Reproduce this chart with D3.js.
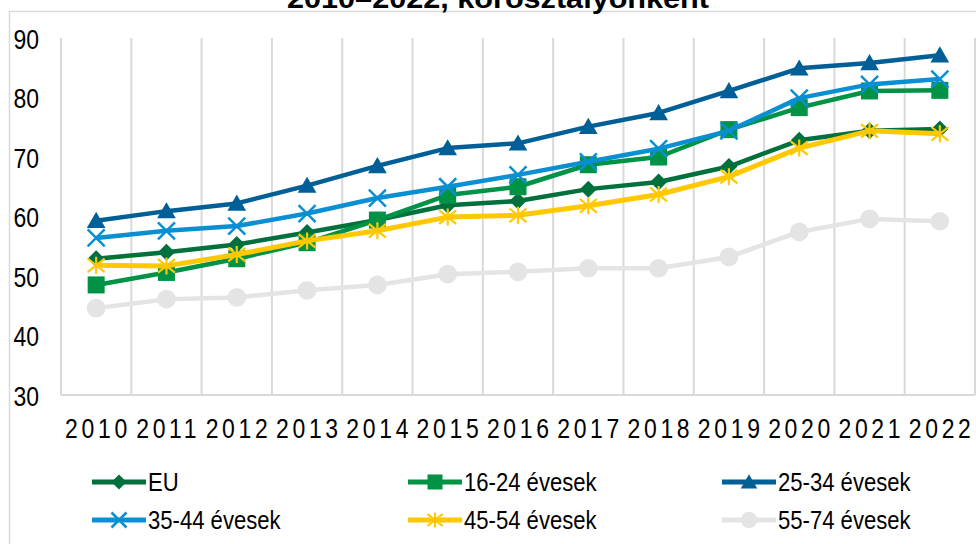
<!DOCTYPE html>
<html><head><meta charset="utf-8">
<script src="https://cdn.jsdelivr.net/npm/d3@7/dist/d3.min.js"></script>
<style>body{margin:0;background:#fff;overflow:hidden}</style>
</head><body>
<svg id="c" width="976" height="544"></svg>
<script>
const years = [2010,2011,2012,2013,2014,2015,2016,2017,2018,2019,2020,2021,2022];
const yTicks = [30,40,50,60,70,80,90];
const seriesNames = ["EU","16-24 évesek","25-34 évesek","35-44 évesek","45-54 évesek","55-74 évesek"];
const euValues   = [52.9,54.0,55.3,57.3,59.4,61.9,62.6,64.6,65.8,68.4,72.8,74.4,74.7];
const age1624    = [48.5,50.6,52.9,55.6,59.4,63.6,65.0,68.7,70.0,74.6,78.3,81.1,81.2];
const age2534    = [59.3,60.9,62.2,65.2,68.5,71.5,72.3,75.1,77.4,81.1,84.9,85.8,87.1];
const age3544    = [56.4,57.6,58.4,60.5,63.1,65.0,67.0,69.2,71.4,74.4,79.9,82.2,83.1];
const age4554    = [51.8,51.7,53.6,55.9,57.6,59.9,60.2,61.8,63.7,66.7,71.5,74.4,73.9];
const age5574    = [44.6,46.1,46.4,47.6,48.5,50.3,50.7,51.3,51.3,53.2,57.4,59.6,59.2];
const seriesValues = [euValues, age1624, age2534, age3544, age4554, age5574];
const seriesColors = ["#00703c","#009245","#005f96","#0a8fd2","#ffc800","#e4e4e4"];
const seriesMarkers = ["diamond","square","triangle","cross","star","circle"];
const titleText = "2010–2022, korosztályonként";

const svg = d3.select("#c");
const FONT = "'Liberation Sans',Arial,sans-serif";

// outer frame
svg.append("rect").attr("x",9.5).attr("y",11.5).attr("width",1000).attr("height",600)
  .attr("fill","none").attr("stroke","#d9d9d9").attr("stroke-width",1.5);

// title (cut off at top, as in the reference)
svg.append("text").attr("x",498).attr("y",8).attr("text-anchor","middle")
  .attr("font-family",FONT).attr("font-weight","bold")
  .attr("font-size",28).attr("fill","#000")
  .attr("textLength",422).attr("lengthAdjust","spacingAndGlyphs").text(titleText);

const x = d3.scaleBand().domain(years).range([61,975]).padding(0);
const y = d3.scaleLinear().domain([30,90]).range([395,38]);

// vertical gridlines at category boundaries
const bounds = years.map(d => x(d)).concat([x.range()[1]]);
svg.append("g").selectAll("line").data(bounds).join("line")
  .attr("x1",d=>d).attr("x2",d=>d).attr("y1",y(90)).attr("y2",y(30))
  .attr("stroke","#d9d9d9").attr("stroke-width",2);
svg.append("line").attr("x1",x.range()[0]).attr("x2",x.range()[1]).attr("y1",y(30)).attr("y2",y(30))
  .attr("stroke","#d9d9d9").attr("stroke-width",2);

// y axis labels
const yAxis = svg.append("g").attr("transform","translate(39,0)")
  .call(d3.axisLeft(y).tickValues(yTicks).tickSize(0).tickPadding(0));
yAxis.select(".domain").remove();
yAxis.selectAll("text").attr("font-family",FONT).attr("font-size",28).attr("fill","#000")
  .attr("x",0).attr("dy","0.36em").attr("transform","scale(0.82,1)");

// x axis labels
const xAxis = svg.append("g").attr("transform","translate(0,"+y(30)+")")
  .call(d3.axisBottom(x).tickSize(0).tickPadding(0));
xAxis.select(".domain").remove();
xAxis.selectAll("text").attr("font-family",FONT).attr("font-size",28).attr("fill","#000")
  .attr("letter-spacing","4.5px").attr("y",43).attr("dy",0).attr("x",2.2)
  .attr("transform","scale(0.82,1)");

function drawMarker(g, type, color, cx, cy, s) {
  if (type==="diamond") {
    g.append("path").attr("d",`M${cx},${cy-s}L${cx+s},${cy}L${cx},${cy+s}L${cx-s},${cy}Z`).attr("fill",color);
  } else if (type==="square") {
    g.append("rect").attr("x",cx-s).attr("y",cy-s).attr("width",2*s).attr("height",2*s).attr("fill",color);
  } else if (type==="triangle") {
    g.append("path").attr("d",`M${cx},${cy-s*1.05}L${cx+s*1.1},${cy+s*0.85}L${cx-s*1.1},${cy+s*0.85}Z`).attr("fill",color);
  } else if (type==="cross") {
    g.append("path").attr("d",`M${cx-s},${cy-s}L${cx+s},${cy+s}M${cx+s},${cy-s}L${cx-s},${cy+s}`)
      .attr("stroke",color).attr("stroke-width",2.5).attr("fill","none");
  } else if (type==="star") {
    g.append("path").attr("d",`M${cx-s},${cy-s*0.8}L${cx+s},${cy+s*0.8}M${cx+s},${cy-s*0.8}L${cx-s},${cy+s*0.8}M${cx},${cy-s}L${cx},${cy+s}`)
      .attr("stroke",color).attr("stroke-width",2.2).attr("fill","none");
  } else if (type==="circle") {
    g.append("circle").attr("cx",cx).attr("cy",cy).attr("r",s*1.1).attr("fill",color);
  }
}

const line = d3.line().x((d,i)=>x(years[i])+x.bandwidth()/2).y(d=>y(d));
const seriesG = svg.append("g");
seriesValues.forEach((vals,k)=>{
  const g = seriesG.append("g");
  g.append("path").datum(vals).attr("d",line).attr("fill","none")
    .attr("stroke",seriesColors[k]).attr("stroke-width",seriesMarkers[k]==="star"?5:4.5)
    .attr("stroke-linejoin","round");
  vals.forEach((v,i)=>drawMarker(g, seriesMarkers[k], seriesColors[k], x(years[i])+x.bandwidth()/2, y(v), 8.5));
});

// legend
const legCols = [92,408,722];
const legRows = [482,520];
seriesNames.forEach((name,k)=>{
  const lx = legCols[k%3], ly = legRows[Math.floor(k/3)];
  const g = svg.append("g");
  g.append("line").attr("x1",lx).attr("x2",lx+54).attr("y1",ly).attr("y2",ly)
    .attr("stroke",seriesColors[k]).attr("stroke-width",5);
  drawMarker(g, seriesMarkers[k], seriesColors[k], lx+27, ly, 7.5);
  g.append("text").attr("transform",`translate(${lx+56},${ly}) scale(0.85,1)`).attr("dy","0.36em")
    .attr("font-family",FONT).attr("font-size",26).attr("fill","#000").text(name);
});
</script>
</body></html>
